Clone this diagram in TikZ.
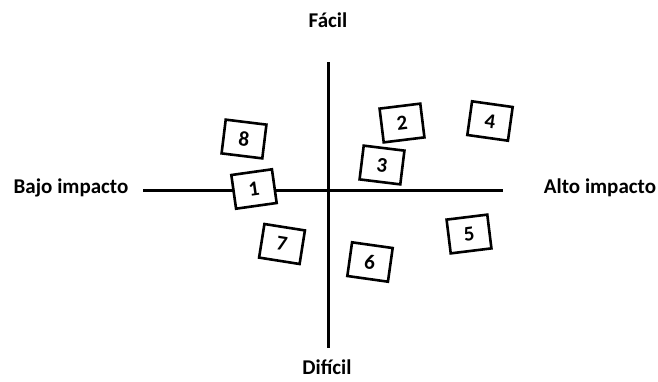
\documentclass[tikz,border=0pt]{standalone}
\usepackage{fontspec}
\setmainfont{Carlito}
\begin{document}
\begin{tikzpicture}[x=1pt,y=-1pt,
  axis/.style={line width=3pt},
  lbl/.style={font=\bfseries\fontsize{21}{23}\selectfont, inner sep=0pt},
  card/.style={draw, line width=2.6pt, fill=white, minimum width=41pt,
    minimum height=34pt, inner sep=0pt, font=\bfseries\fontsize{21}{23}\selectfont}]
  \useasboundingbox (0,0) rectangle (658,381);
  % axes
  \coordinate (top) at (328,62);
  \coordinate (bot) at (328,348);
  \coordinate (left) at (143,190);
  \coordinate (right) at (503,190);
  \draw[axis] (top) -- (bot);
  \draw[axis] (left) -- (right);
  % axis labels
  \node[lbl] (easy) at (328,20) {Fácil};
  \node[lbl] (hard) at (327,367) {Difícil};
  \node[lbl] (low) at (71,188) {Bajo impacto};
  \node[lbl] (high) at (600,188) {Alto impacto};
  % numbered cards
  \node[card, rotate=-7] (c8) at (244,139) {8};
  \node[card, rotate=8] (c1) at (254,189) {1};
  \node[card, rotate=7] (c2) at (402,123) {2};
  \node[card, rotate=-7] (c3) at (382,165) {3};
  \node[card, rotate=-8] (c4) at (490,121) {4};
  \node[card, rotate=7] (c5) at (469,234) {5};
  \node[card, rotate=-8] (c6) at (370,262) {6};
  \node[card, rotate=-9] (c7) at (282,244) {7};
\end{tikzpicture}
\end{document}
